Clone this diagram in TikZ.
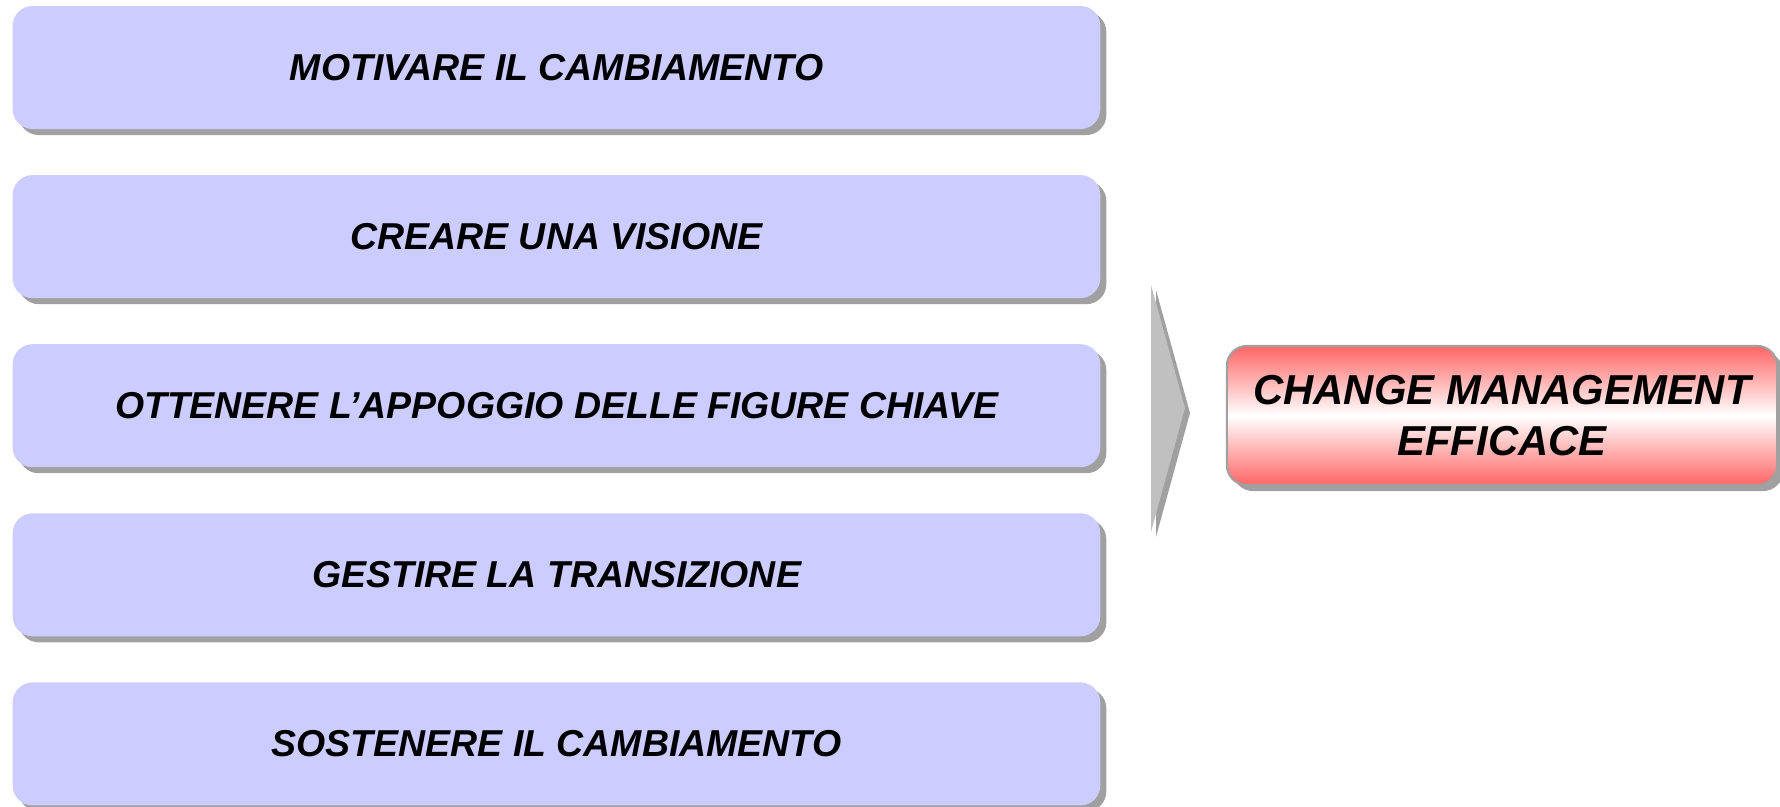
\documentclass[tikz,border=0pt]{standalone}
\usepackage{fontspec}
\setmainfont{Liberation Sans}
\usepackage{tikz}
\usetikzlibrary{shapes,positioning,shadows}
\definecolor{phasefill}{RGB}{204,204,255}
\definecolor{shadowgray}{RGB}{160,160,160}
\definecolor{goalred}{RGB}{255,102,102}
\definecolor{arrowgray}{RGB}{192,192,192}
\tikzset{
    raw box/.style={rectangle, rounded corners=0.2cm, align=center, inner sep=0pt, outer sep=0pt,
        drop shadow={shadow xshift=0.06cm, shadow yshift=-0.06cm, fill=shadowgray, opacity=1}},
    phase box/.style={raw box, fill=phasefill, minimum width=10.87cm, minimum height=1.23cm,
        font=\fontsize{10.65}{12.5}\selectfont\bfseries\itshape},
    goal box/.style={raw box, draw=shadowgray, line width=0.6pt, top color=goalred, bottom color=goalred,
        middle color=white, minimum width=5.5cm, minimum height=1.39cm, text depth=0pt,
        font=\fontsize{11.9}{14.5}\selectfont\bfseries\itshape}
}

\begin{document}
\begin{tikzpicture}[x=0.01cm, y=-0.01cm, node distance=0.46cm]
    \useasboundingbox (0,0) rectangle (1780,807);
    \begin{scope}[every node/.style={phase box}]
        \node (p1) at (556.5,67.5) {MOTIVARE IL CAMBIAMENTO};
        \node (p2) [below=of p1] {CREARE UNA VISIONE};
        \node (p3) [below=of p2] {OTTENERE L’APPOGGIO DELLE FIGURE CHIAVE};
        \node (p4) [below=of p3] {GESTIRE LA TRANSIZIONE};
        \node (p5) [below=of p4] {SOSTENERE IL CAMBIAMENTO};
    \end{scope}
    % chevron
    \coordinate (ctop) at (1151,285);
    \coordinate (ctip) at (1185,408);
    \coordinate (cbot) at (1151,532);
    \fill[shadowgray] ([shift={(5,5)}]ctop) -- ([shift={(5,5)}]ctip) -- ([shift={(5,5)}]cbot) -- cycle;
    \fill[arrowgray] (ctop) -- (ctip) -- (cbot) -- cycle;
    \node[goal box] (goal) at (1502,415.5) {CHANGE MANAGEMENT\\EFFICACE};
\end{tikzpicture}
\end{document}
